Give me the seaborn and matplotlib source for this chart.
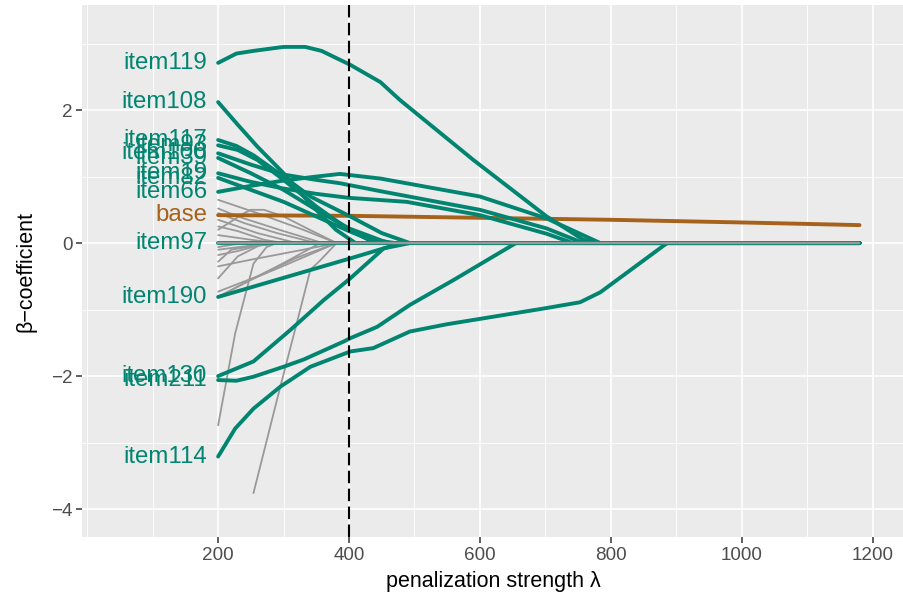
import numpy as np
import pandas as pd
import matplotlib
matplotlib.use("Agg")
import matplotlib.pyplot as plt
import seaborn as sns

# ---------------- data ----------------
# highlighted (selected) coefficients: name -> (lambda knots, beta knots)
item119_lam = [200, 228, 254, 300, 333, 358, 402, 448, 478, 590, 702, 758, 784]
item119_b = [2.71, 2.85, 2.89, 2.95, 2.95, 2.89, 2.68, 2.42, 2.15, 1.25, 0.40, 0.05, 0.0]
item108_lam = [200, 230, 260, 300, 340, 380, 410]
item108_b = [2.12, 1.78, 1.45, 1.05, 0.60, 0.20, 0.0]
item117_lam = [200, 228, 254, 300, 341, 402, 450, 493]
item117_b = [1.55, 1.46, 1.32, 1.00, 0.70, 0.40, 0.15, 0.0]
item93_lam = [200, 230, 260, 300, 350, 400, 440]
item93_b = [1.47, 1.40, 1.25, 0.95, 0.55, 0.20, 0.0]
item100_lam = [200, 250, 300, 350, 386, 448, 600, 702, 758]
item100_b = [1.35, 1.18, 1.03, 0.95, 0.90, 0.78, 0.50, 0.22, 0.0]
item39_lam = [200, 250, 300, 350, 400, 460]
item39_b = [1.28, 1.05, 0.80, 0.50, 0.22, 0.0]
item19_lam = [200, 250, 300, 350, 400, 488, 600, 702, 742]
item19_b = [1.05, 0.92, 0.82, 0.74, 0.68, 0.62, 0.42, 0.14, 0.0]
item82_lam = [200, 250, 300, 350, 400, 430, 470]
item82_b = [0.98, 0.80, 0.62, 0.40, 0.18, 0.06, 0.0]
item66_lam = [200, 250, 300, 350, 386, 448, 600, 702, 784]
item66_b = [0.77, 0.86, 0.94, 1.00, 1.04, 0.97, 0.70, 0.37, 0.0]
item97_lam = [200, 1180]
item97_b = [0.0, 0.0]
item190_lam = [200, 402, 453, 493]
item190_b = [-0.81, -0.23, -0.08, 0.0]
item130_lam = [200, 254, 310, 361, 402, 453, 480]
item130_b = [-2.00, -1.78, -1.31, -0.86, -0.53, -0.08, 0.0]
item211_lam = [200, 228, 254, 300, 331, 392, 402, 443, 493, 559, 655]
item211_b = [-2.06, -2.07, -2.01, -1.86, -1.75, -1.48, -1.43, -1.26, -0.93, -0.56, 0.0]
item114_lam = [200, 226, 254, 295, 341, 402, 437, 493, 550, 600, 650, 700, 753, 784, 886]
item114_b = [-3.21, -2.79, -2.49, -2.16, -1.86, -1.63, -1.58, -1.33, -1.22, -1.14, -1.06, -0.98, -0.89, -0.74, 0.0]

# intercept-like "base" line
base_lam = [200, 400, 600, 800, 1000, 1180]
base_b = [0.42, 0.41, 0.38, 0.35, 0.31, 0.27]

# non-selected (grey) coefficient paths
grey_paths = {
    "g1": ([200, 260, 330, 381], [0.65, 0.45, 0.20, 0.0]),
    "g2": ([200, 240, 250, 270, 300, 340, 381], [0.20, 0.45, 0.50, 0.50, 0.40, 0.20, 0.0]),
    "g3": ([200, 230, 300, 360], [0.52, 0.40, 0.18, 0.0]),
    "g4": ([200, 240, 290, 350], [0.45, 0.30, 0.15, 0.0]),
    "g5": ([200, 260, 320], [0.35, 0.15, 0.0]),
    "g6": ([200, 230, 270, 300], [0.25, 0.18, 0.05, 0.0]),
    "g7": ([200, 250, 290], [0.12, 0.05, 0.0]),
    "g8": ([200, 225, 260], [-0.06, -0.02, 0.0]),
    "g9": ([200, 240, 280], [-0.10, -0.05, 0.0]),
    "g10": ([200, 230, 260, 300], [-0.18, -0.12, -0.04, 0.0]),
    "g11": ([200, 220, 250, 300], [-0.28, -0.10, -0.05, 0.0]),
    "g12": ([200, 250, 330, 381], [-0.35, -0.25, -0.10, 0.0]),
    "g13": ([200, 230, 270], [-0.53, -0.20, 0.0]),
    "g14": ([200, 260, 320, 381], [-0.73, -0.50, -0.22, 0.0]),
    "g15": ([200, 300, 356], [-0.81, -0.30, 0.0]),
    "g16": ([200, 250, 310, 381], [-0.81, -0.55, -0.30, 0.0]),
    "g17": ([200, 226, 254, 274, 290], [-2.74, -1.36, -0.31, -0.06, 0.0]),
    "g18": ([254, 295, 320, 341, 356, 381], [-3.76, -2.16, -1.21, -0.40, -0.26, 0.0]),
}
grey_zero_lam = [200, 1180]
grey_zero_b = [0.0, 0.0]

selected = {
    "item119": (item119_lam, item119_b),
    "item108": (item108_lam, item108_b),
    "item117": (item117_lam, item117_b),
    "item93": (item93_lam, item93_b),
    "item100": (item100_lam, item100_b),
    "item39": (item39_lam, item39_b),
    "item19": (item19_lam, item19_b),
    "item82": (item82_lam, item82_b),
    "item66": (item66_lam, item66_b),
    "item97": (item97_lam, item97_b),
    "item190": (item190_lam, item190_b),
    "item130": (item130_lam, item130_b),
    "item211": (item211_lam, item211_b),
    "item114": (item114_lam, item114_b),
}

lambda_end = 1180
lambda_opt = 400
x_ticks = [200, 400, 600, 800, 1000, 1200]
y_ticks = [-4, -2, 0, 2]

TEAL = "#018571"
BROWN = "#A6611A"
GREY = "#999999"


def to_long(paths):
    rows = []
    for name, (lam, b) in paths.items():
        lam = list(lam)
        b = list(b)
        if lam[-1] < lambda_end:
            lam = lam + [lambda_end]
            b = b + [0.0]
        for l, v in zip(lam, b):
            rows.append((name, l, v))
    return pd.DataFrame(rows, columns=["item", "lam", "beta"])


df_grey = to_long(grey_paths)
df_sel = to_long(selected)
df_base = pd.DataFrame({"item": "base", "lam": base_lam, "beta": base_b})
df_zero = pd.DataFrame({"item": "zero", "lam": grey_zero_lam, "beta": grey_zero_b})

# ---------------- style ----------------
sns.set_theme(style="darkgrid", rc={
    "axes.facecolor": "#EBEBEB",
    "grid.color": "white",
    "axes.edgecolor": "#EBEBEB",
})
plt.rcParams["font.family"] = ["Liberation Sans", "DejaVu Sans"]

fig = plt.figure(figsize=(9.04, 5.96), dpi=100)
ax = fig.add_axes([82 / 904, 59 / 596, (904 - 82) / 904, (537 - 5) / 596])

sns.lineplot(data=df_grey, x="lam", y="beta", units="item", estimator=None, sort=False,
             color=GREY, linewidth=1.3, ax=ax)
sns.lineplot(data=df_base, x="lam", y="beta", estimator=None, sort=False,
             color=BROWN, linewidth=2.8, ax=ax)
sns.lineplot(data=df_sel, x="lam", y="beta", units="item", estimator=None, sort=False,
             color=TEAL, linewidth=2.8, ax=ax)
sns.lineplot(data=df_zero, x="lam", y="beta", estimator=None, sort=False,
             color=GREY, linewidth=1.7, ax=ax)

ax.axvline(lambda_opt, color="black", linewidth=1.5, linestyle=(0, (6, 2.6)), zorder=5)

# labels at the start of each path
label_x = 183
for name, (lam, b) in selected.items():
    ax.text(label_x, b[0], name, color=TEAL, fontsize=17.3, ha="right", va="center")
ax.text(label_x, base_b[0], "base", color=BROWN, fontsize=17.3, ha="right", va="center")

ax.set_xlim(-8, 1248)
ax.set_ylim(-4.42, 3.58)
ax.set_xticks(x_ticks)
ax.set_yticks(y_ticks)
ax.set_xticks([0, 100, 300, 500, 700, 900, 1100], minor=True)
ax.set_yticks([-3, -1, 1, 3], minor=True)
ax.grid(which="major", color="white", linewidth=1.2)
ax.grid(which="minor", color="white", linewidth=0.6)
ax.tick_params(which="major", length=4, width=1.1, color="#333333", labelcolor="#4D4D4D",
               labelsize=13.6, pad=3, bottom=True, left=True)
ax.tick_params(which="minor", length=0)
for s in ax.spines.values():
    s.set_visible(False)

ax.set_xlabel("penalization strength λ", fontsize=15.5, color="black", labelpad=5)
ax.set_ylabel("β\u2212coefficient", fontsize=15.5, color="black", labelpad=10)
if ax.get_legend() is not None:
    ax.get_legend().remove()

fig.savefig("out.png", dpi=100)
